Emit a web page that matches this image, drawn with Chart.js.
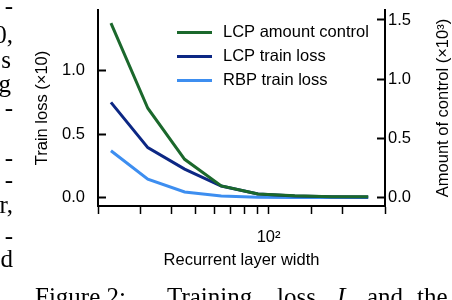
<!DOCTYPE html>
<html>
<head>
<meta charset="utf-8">
<script src="https://cdn.jsdelivr.net/npm/chart.js@4.4.1/dist/chart.umd.min.js"></script>
<style>
  body { margin: 0; background: #fff; }
  #wrap { position: relative; width: 452px; height: 300px; overflow: hidden; background: #fff; }
  #chart { position: absolute; left: 0; top: 0; }
  .paper { position: absolute; font-family: "Liberation Serif", "Times New Roman", serif; font-size: 25px; line-height: 25px; color: #000; white-space: nowrap; }
</style>
</head>
<body>
<div id="wrap">
  <canvas id="chart" width="452" height="300"></canvas>
  <!-- bits of the paper's text column that got cut off on the left -->
  <div class="paper" style="right:439px; top:-7px">-</div>
  <div class="paper" style="right:439px; top:22px">0,</div>
  <div class="paper" style="right:441px; top:47px">s</div>
  <div class="paper" style="right:441px; top:71px">g</div>
  <div class="paper" style="right:439px; top:95px">-</div>
  <div class="paper" style="right:439px; top:145px">-</div>
  <div class="paper" style="right:439px; top:167px">-</div>
  <div class="paper" style="right:439px; top:192px">r,</div>
  <div class="paper" style="right:439px; top:223px">-</div>
  <div class="paper" style="right:439px; top:246px">d</div>
  <!-- caption -->
  <div class="paper" style="left:35px; top:284px">Figure 2:</div>
  <div class="paper" style="left:167px; top:284px">Training</div>
  <div class="paper" style="left:277px; top:284px">loss</div>
  <div class="paper" style="left:337px; top:284px"><i>L</i></div>
  <div class="paper" style="left:367px; top:284px">and</div>
  <div class="paper" style="left:417px; top:284px">the</div>
</div>
<script>
'use strict';

const widths = [22.6, 32, 45.3, 64, 90.5, 128, 181, 256];
const lcpControl = [1.473, 0.755, 0.324, 0.099, 0.031, 0.016, 0.009, 0.008];
const lcpLoss = [0.749, 0.393, 0.225, 0.092, 0.029, 0.014, 0.008, 0.005];
const rbpLoss = [0.369, 0.145, 0.045, 0.013, 0.004, 0.002, 0.001, 0.001];
const lossTicks = [0, 0.5, 1.0];
const controlTicks = [0, 0.5, 1.0, 1.5];
const seriesNames = ['LCP amount control', 'LCP train loss', 'RBP train loss'];

const font = { family: '"Liberation Sans", Arial, sans-serif', size: 16.5 };
Chart.defaults.font.family = font.family;
Chart.defaults.color = '#000';

function pairs(ys) {
    return widths.map((w, i) => ({ x: w, y: ys[i] }));
}

// legend box inside the plot, top right
const legendInside = {
    id: 'legendInside',
    afterDraw(chart) {
        const ctx = chart.ctx;
        ctx.save();
        ctx.font = font.size + 'px ' + font.family;
        ctx.textBaseline = 'middle';
        ctx.fillStyle = '#000';
        chart.data.datasets.forEach((ds, i) => {
            const y = 32.5 + i * 24;
            ctx.strokeStyle = ds.borderColor;
            ctx.lineWidth = 3;
            ctx.beginPath();
            ctx.moveTo(177, y);
            ctx.lineTo(212, y);
            ctx.stroke();
            ctx.fillText(ds.label, 223, y);
        });
        ctx.restore();
    }
};

// right axis title reads bottom to top like the left one
const rightTitle = {
    id: 'rightTitle',
    afterDraw(chart) {
        const ctx = chart.ctx;
        ctx.save();
        ctx.translate(443, (chart.chartArea.top + chart.chartArea.bottom) / 2);
        ctx.rotate(-Math.PI / 2);
        ctx.font = font.size + 'px ' + font.family;
        ctx.textAlign = 'center';
        ctx.textBaseline = 'middle';
        ctx.fillStyle = '#000';
        ctx.fillText('Amount of control (×10³)', 0, 0);
        ctx.restore();
    }
};

function fixWidth(w) {
    return s => { s.width = w; s.paddingTop = 0; s.paddingBottom = 0; };
}

const ctx = document.getElementById('chart').getContext('2d');

new Chart(ctx, {
    type: 'line',
    data: {
        datasets: [
            { label: seriesNames[0], data: pairs(lcpControl), yAxisID: 'y1', borderColor: '#1b682c', borderWidth: 3 },
            { label: seriesNames[1], data: pairs(lcpLoss), yAxisID: 'y', borderColor: '#0c2784', borderWidth: 3 },
            { label: seriesNames[2], data: pairs(rbpLoss), yAxisID: 'y', borderColor: '#3d8ef0', borderWidth: 3 }
        ]
    },
    options: {
        responsive: false,
        animation: false,
        devicePixelRatio: 1,
        layout: { padding: { top: 10 } },
        elements: { point: { radius: 0 }, line: { tension: 0 } },
        plugins: { legend: { display: false }, tooltip: { enabled: false } },
        scales: {
            x: {
                type: 'logarithmic',
                min: 20,
                max: 300,
                afterFit: s => { s.height = 94; s.paddingLeft = 0; s.paddingRight = 0; },
                border: { display: true, color: '#000', width: 2 },
                grid: { drawOnChartArea: false, drawTicks: true, tickLength: 8, tickWidth: 1.5, tickColor: '#000' },
                ticks: {
                    autoSkip: false,
                    maxRotation: 0,
                    padding: 14,
                    font: font,
                    callback: v => Math.abs(v - 100) < 1e-6 ? '10²' : ''
                },
                title: { display: true, text: 'Recurrent layer width', font: font, padding: { top: 0, bottom: 30 } }
            },
            y: {
                position: 'left',
                min: -0.065,
                max: 1.474,
                afterFit: fixWidth(98),
                afterBuildTicks: s => { s.ticks = lossTicks.map(v => ({ value: v })); },
                border: { display: true, color: '#000', width: 2 },
                grid: { drawOnChartArea: false, drawTicks: true, tickLength: -8, tickWidth: 2, tickColor: '#000' },
                ticks: { padding: 21, font: font, callback: v => v.toFixed(1) },
                title: { display: true, text: 'Train loss (×10)', font: font, padding: { top: 33 } }
            },
            y1: {
                position: 'right',
                min: -0.070,
                max: 1.584,
                afterFit: fixWidth(67),
                afterBuildTicks: s => { s.ticks = controlTicks.map(v => ({ value: v })); },
                border: { display: true, color: '#000', width: 2 },
                grid: { drawOnChartArea: false, drawTicks: true, tickLength: -8, tickWidth: 2, tickColor: '#000' },
                ticks: { padding: 11, font: font, callback: v => v.toFixed(1) }
            }
        }
    },
    plugins: [legendInside, rightTitle]
});
</script>
</body>
</html>
